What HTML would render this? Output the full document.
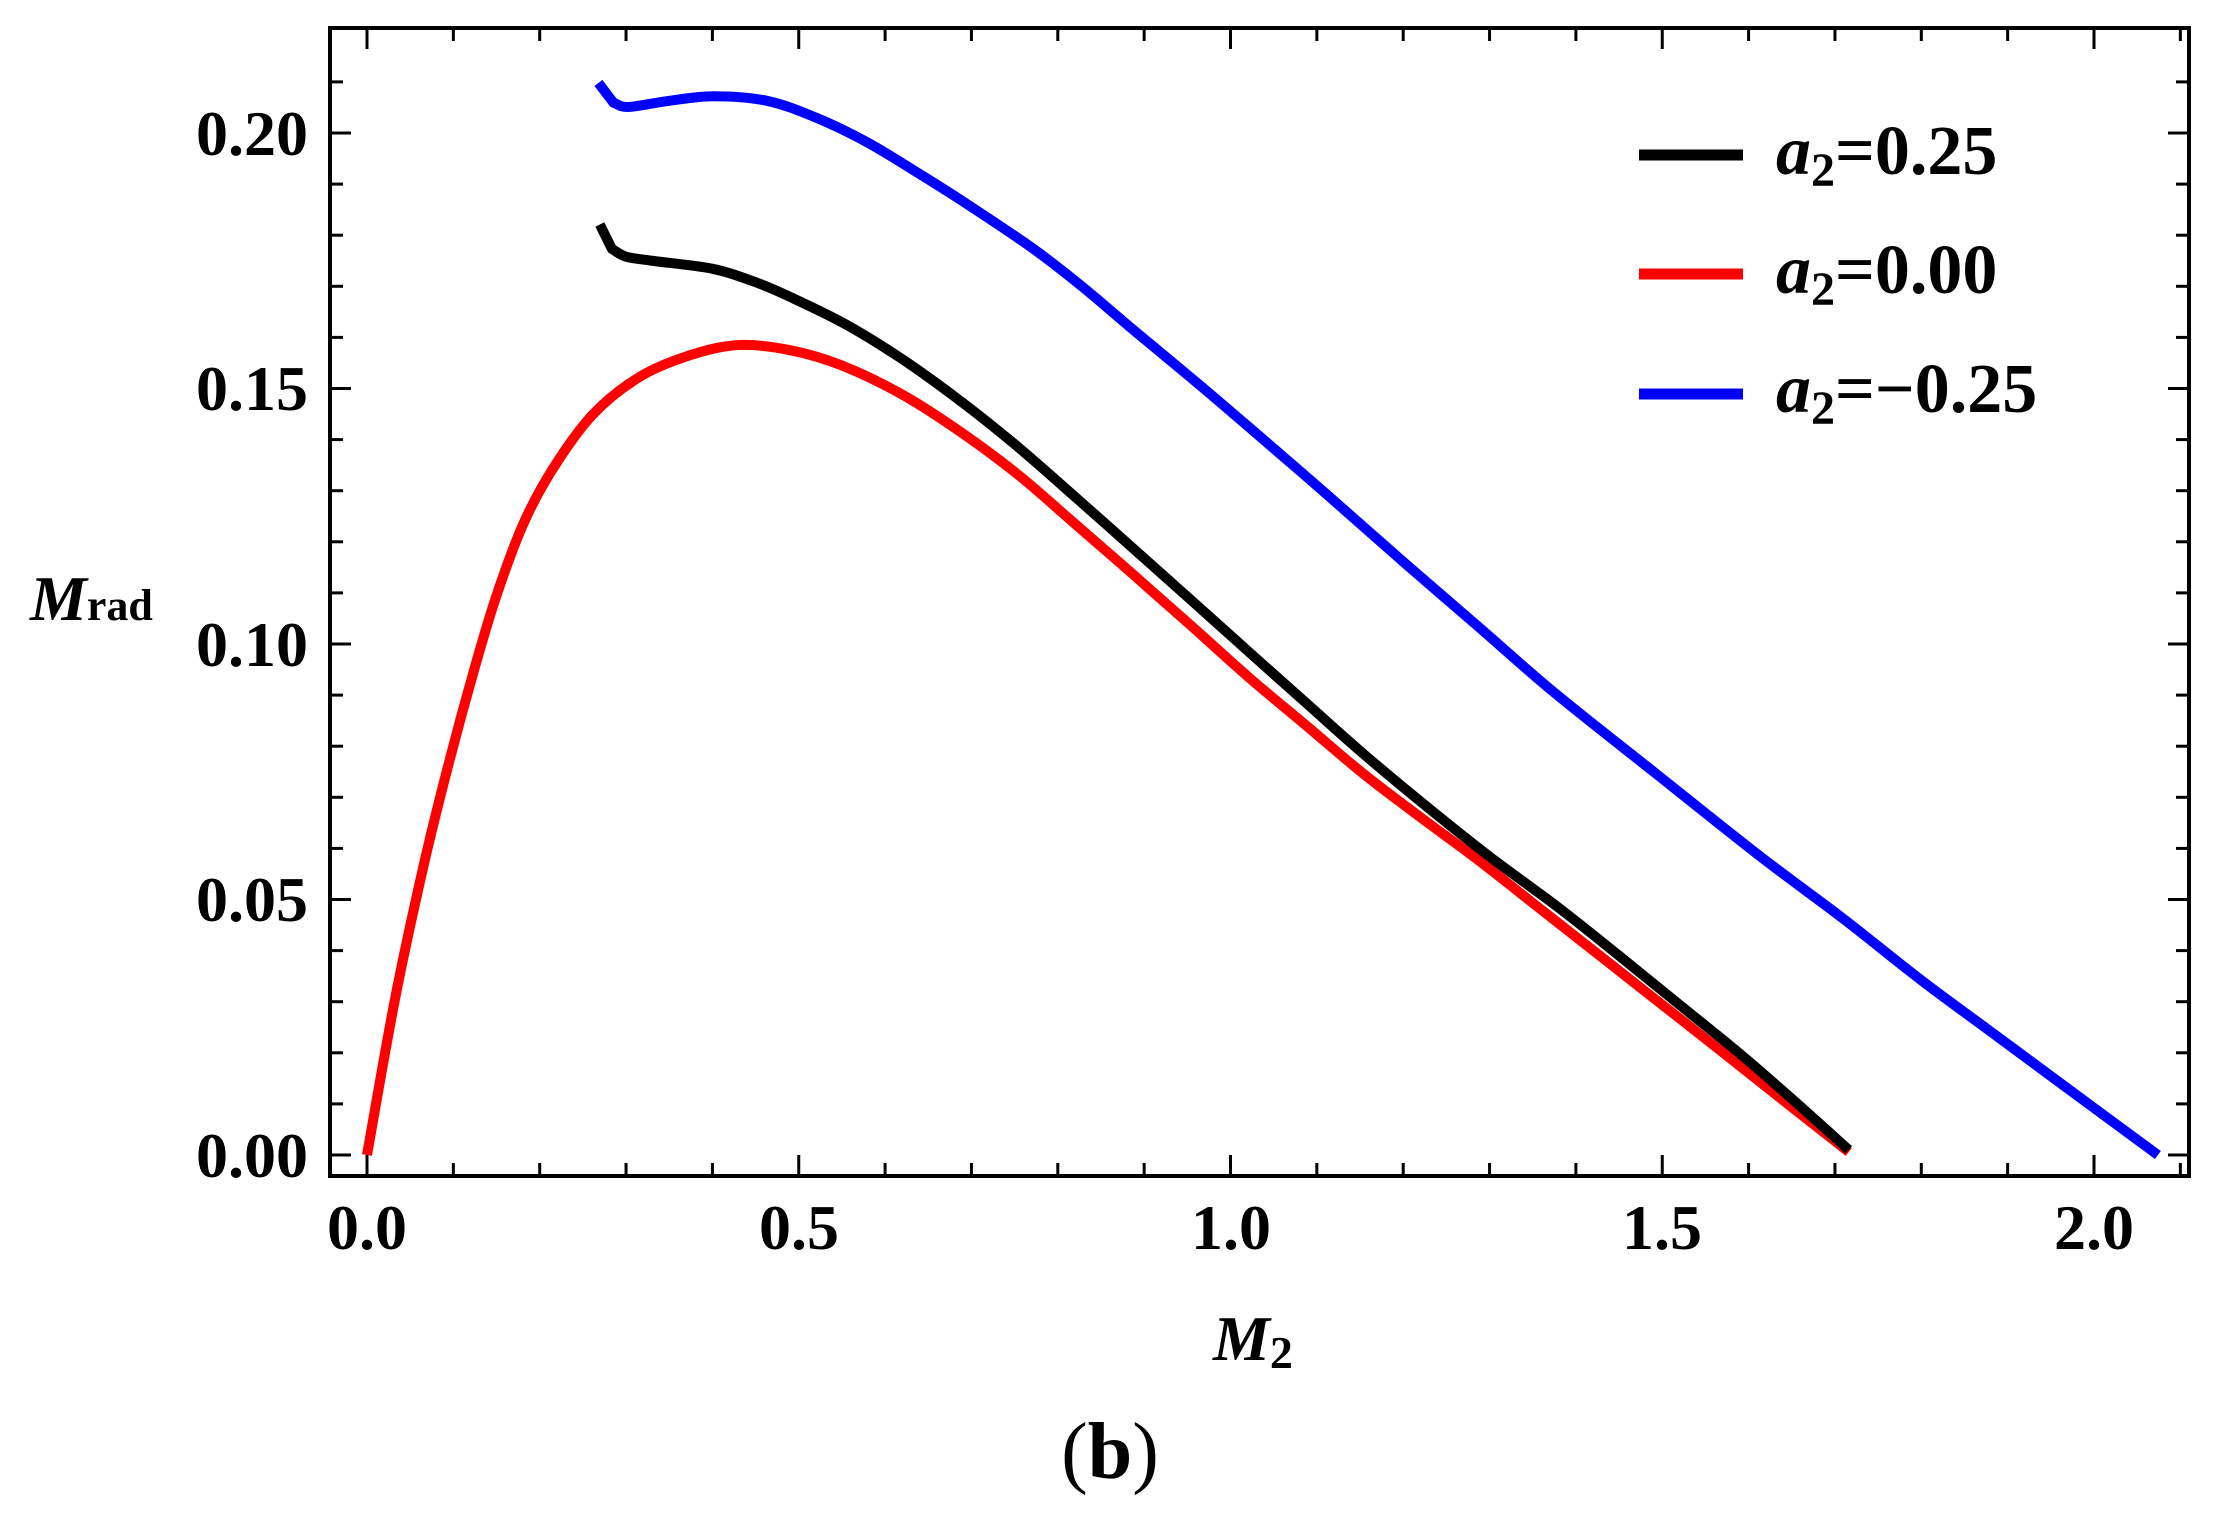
<!DOCTYPE html>
<html><head><meta charset="utf-8">
<style>
html,body{margin:0;padding:0;background:#fff;}
svg{display:block;}
text{font-family:"Liberation Serif","DejaVu Serif",serif;font-weight:bold;fill:#000;}
</style></head>
<body>
<svg id="s" width="2222" height="1519" viewBox="0 0 2222 1519" xmlns="http://www.w3.org/2000/svg">
<rect x="0" y="0" width="2222" height="1519" fill="#fff"/>
<g id="ticks" stroke="#000" stroke-width="3"></g>
<rect x="330" y="28" width="1859" height="1148" fill="none" stroke="#000" stroke-width="4"/>
<g id="curves" fill="none" stroke-width="10" stroke-linejoin="round" stroke-linecap="butt"></g>
<g font-size="64">
<text x="308" y="155" text-anchor="end">0.20</text>
<text x="308" y="410" text-anchor="end">0.15</text>
<text x="308" y="666" text-anchor="end">0.10</text>
<text x="308" y="921" text-anchor="end">0.05</text>
<text x="308" y="1177" text-anchor="end">0.00</text>
<text x="367" y="1249" text-anchor="middle">0.0</text>
<text x="799" y="1249" text-anchor="middle">0.5</text>
<text x="1231" y="1249" text-anchor="middle">1.0</text>
<text x="1662" y="1249" text-anchor="middle">1.5</text>
<text x="2094" y="1249" text-anchor="middle">2.0</text>
</g>
<text x="30" y="620" font-size="64"><tspan font-style="italic">M</tspan><tspan font-size="44">rad</tspan></text>
<text x="1213" y="1360" font-size="64"><tspan font-style="italic">M</tspan><tspan font-size="46" dy="8">2</tspan></text>
<text x="1110" y="1478" font-size="80" text-anchor="middle"><tspan font-weight="normal">(</tspan>b<tspan font-weight="normal">)</tspan></text>
<g>
<line x1="1639" y1="155" x2="1743" y2="155" stroke="#000" stroke-width="11"/>
<line x1="1639" y1="274" x2="1743" y2="274" stroke="#f00" stroke-width="11"/>
<line x1="1639" y1="394" x2="1743" y2="394" stroke="#00f" stroke-width="11"/>
<g font-size="70">
<text x="1776" y="174"><tspan font-style="italic">a</tspan><tspan font-size="48" dy="12">2</tspan><tspan dy="-12">=0.25</tspan></text>
<text x="1776" y="293"><tspan font-style="italic">a</tspan><tspan font-size="48" dy="12">2</tspan><tspan dy="-12">=0.00</tspan></text>
<text x="1776" y="412"><tspan font-style="italic">a</tspan><tspan font-size="48" dy="12">2</tspan><tspan dy="-12">=−0.25</tspan></text>
</g>
</g>
</svg>
<script>
var X=function(v){return 367+v*863.5;}, Y=function(v){return 1155-v*5110;};
var NS="http://www.w3.org/2000/svg";
var t=document.getElementById('ticks');
function ln(x1,y1,x2,y2){var l=document.createElementNS(NS,'line');l.setAttribute('x1',x1);l.setAttribute('y1',y1);l.setAttribute('x2',x2);l.setAttribute('y2',y2);t.appendChild(l);}
for(var i=0;i<=21;i++){var x=X(i*0.1);if(x>2189)break;var L=(i%5==0)?21:13;ln(x,1176,x,1176-L);ln(x,28,x,28+L);}
for(var j=0;j<=21;j++){var y=Y(j*0.01);if(y<28)break;var L=(j%5==0)?21:13;ln(330,y,330+L,y);ln(2189,y,2189-L,y);}
var red=[[0,0],[0.033,0.031],[0.067,0.0577],[0.096,0.0775],[0.125,0.0955],[0.15,0.1095],[0.181,0.1235],[0.216,0.1345],[0.262,0.1450],[0.316,0.1523],[0.374,0.1565],[0.43,0.1585],[0.49,0.1575],[0.55,0.1545],[0.62,0.1488],[0.69,0.1412],[0.755,0.1330],[0.82,0.1235],[0.888,0.1135],[0.955,0.1035],[1.021,0.0935],[1.088,0.0840],[1.154,0.0746],[1.22,0.0661],[1.287,0.0577],[1.36,0.0480],[1.43,0.0387],[1.50,0.0294],[1.57,0.0201],[1.64,0.0107],[1.716,0.0006]];
var blk=[[0.2696,0.1821],[0.2837,0.1773],[0.30,0.1758],[0.33,0.1750],[0.401,0.1734],[0.45,0.1708],[0.489,0.1680],[0.555,0.1625],[0.622,0.1555],[0.69,0.1472],[0.755,0.1384],[0.82,0.1288],[0.888,0.1186],[0.955,0.1085],[1.021,0.0985],[1.088,0.0884],[1.154,0.0785],[1.23,0.0678],[1.30,0.0584],[1.38,0.0484],[1.45,0.0390],[1.52,0.0294],[1.59,0.0198],[1.65,0.0110],[1.716,0.001]];
var blu=[[0.268,0.2098],[0.2856,0.2059],[0.303,0.2051],[0.35,0.2063],[0.401,0.2072],[0.463,0.2063],[0.52,0.2030],[0.578,0.1983],[0.635,0.1925],[0.693,0.1863],[0.772,0.1773],[0.83,0.1697],[0.888,0.1614],[0.955,0.1520],[1.021,0.1425],[1.11,0.1295],[1.198,0.1164],[1.287,0.1034],[1.375,0.0905],[1.49,0.0750],[1.613,0.0585],[1.71,0.0462],[1.80,0.0342],[1.88,0.0242],[1.96,0.0142],[2.074,0]];
function path(p,c){var pts=p.map(function(a){return [X(a[0]),Y(a[1])];});var d='M'+pts[0][0]+','+pts[0][1];
for(var i=0;i<pts.length-1;i++){var p0=pts[Math.max(i-1,0)],p1=pts[i],p2=pts[i+1],p3=pts[Math.min(i+2,pts.length-1)];
var c1=[p1[0]+(p2[0]-p0[0])/6,p1[1]+(p2[1]-p0[1])/6],c2=[p2[0]-(p3[0]-p1[0])/6,p2[1]-(p3[1]-p1[1])/6];
if(p[0][0]>0.2&&i==0){c1=[p1[0]+(p2[0]-p1[0])/3,p1[1]+(p2[1]-p1[1])/3];c2=[p2[0]-(p2[0]-p1[0])/3,p2[1]-(p2[1]-p1[1])/3];}
if(p[0][0]>0.2&&i==1){c1=[p1[0]+(p2[0]-p1[0])/3,p1[1]+(p2[1]-p1[1])/3];}
d+=' C'+c1[0]+','+c1[1]+' '+c2[0]+','+c2[1]+' '+p2[0]+','+p2[1];}
var e=document.createElementNS(NS,'path');e.setAttribute('d',d);e.setAttribute('stroke',c);document.getElementById('curves').appendChild(e);}
path(blu,'#00f');path(red,'#f00');path(blk,'#000');
</script>
</body></html>
